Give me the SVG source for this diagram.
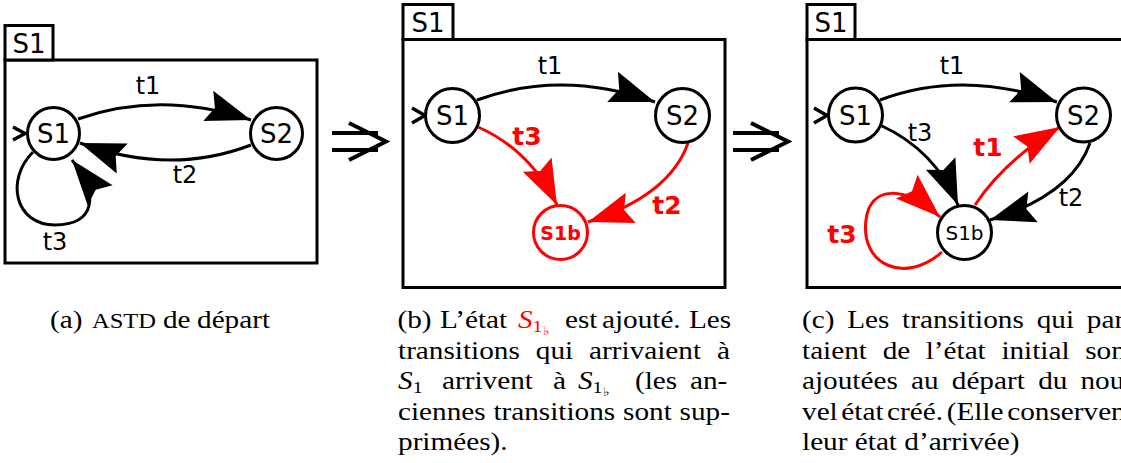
<svg xmlns="http://www.w3.org/2000/svg" width="1121" height="463" viewBox="0 0 1121 463">
<style>
.frame{fill:none;stroke:#000;stroke-width:3}
.lbl{fill:#fff;stroke:#000;stroke-width:3}
.node{fill:#fff;stroke:#000;stroke-width:3}
.rnode{fill:#fff;stroke:#f00;stroke-width:3}
.nt{font-family:"DejaVu Sans",sans-serif;font-size:26px;text-anchor:middle;fill:#000}
.st{font-family:"DejaVu Sans",sans-serif;font-size:20px;text-anchor:middle;fill:#000}
.rst{font-family:"DejaVu Sans",sans-serif;font-size:19px;font-weight:bold;text-anchor:middle;fill:#f00}
.tl{font-family:"DejaVu Sans",sans-serif;font-size:24px;text-anchor:middle;fill:#000}
.rtl{font-family:"DejaVu Sans",sans-serif;font-size:25px;font-weight:bold;text-anchor:middle;fill:#f00}
.e{fill:none;stroke:#000;stroke-width:3;marker-end:url(#ah)}
.re{fill:none;stroke:#f00;stroke-width:3;marker-end:url(#ahr)}
.init{fill:none;stroke:#000;stroke-width:3.5}
.imp{fill:none;stroke:#000;stroke-width:4}
.cap{font-family:"Liberation Serif","Times New Roman",serif;font-size:25px;fill:#000}
.red{fill:#f00}
.it{font-style:italic}
</style>
<defs>
<marker id="ah" markerUnits="userSpaceOnUse" viewBox="-47 -18 49 36" markerWidth="49" markerHeight="36" refX="0" refY="0" orient="auto"><path d="M0,0 L-45,-16 L-38,0 L-45,16 Z" fill="#000"/></marker>
<marker id="ahr" markerUnits="userSpaceOnUse" viewBox="-47 -18 49 36" markerWidth="49" markerHeight="36" refX="0" refY="0" orient="auto"><path d="M0,0 L-45,-16 L-38,0 L-45,16 Z" fill="#f00"/></marker>
</defs>

<!-- Panel a -->
<g id="panel-a">
  <rect class="frame" x="5" y="60" width="312" height="203"/>
  <rect class="lbl" x="5" y="25.5" width="48" height="34.5"/>
  <text class="nt" x="29" y="52.5">S1</text>
</g>
<g id="a-connectors">
  <polyline class="init" points="13,127 25,133.5 13,140"/>
  <path class="e" d="M78,119 Q160,90 251,120"/>
  <path class="e" d="M251,145 Q170,176 80,143"/>
  <path class="e" d="M33,152 C5,180 15,225 55,225 C95,225 100,195 72,160"/>
  <text class="tl" x="148" y="94">t1</text>
  <text class="tl" x="185" y="183">t2</text>
  <text class="tl" x="55" y="250">t3</text>
</g>
<g id="a-S1"><circle class="node" cx="53.5" cy="133.5" r="26"/><text class="nt" x="53.5" y="143">S1</text></g>
<g id="a-S2"><circle class="node" cx="276.5" cy="133.5" r="26"/><text class="nt" x="276.5" y="143">S2</text></g>

<!-- implication arrows -->
<g id="implies-1"><path class="imp" d="M332,133 H378 M332,150 H378 M349,123 L386,141.5 L349,160"/></g>
<g id="implies-2"><path class="imp" d="M733,133 H779 M733,150 H779 M751,123 L788,141.5 L751,160"/></g>

<!-- Panel b -->
<g id="panel-b">
  <rect class="frame" x="403" y="39.5" width="322" height="248"/>
  <rect class="lbl" x="403" y="4.5" width="50" height="35"/>
  <text class="nt" x="428" y="31.5">S1</text>
</g>
<g id="b-connectors">
  <polyline class="init" points="412,108 425,115.5 412,123"/>
  <path class="e" d="M477,100 Q562,69 655,102"/>
  <path class="re" d="M478,127 Q530,150 557,205"/>
  <path class="re" d="M688,143 Q670,195 588,222"/>
  <text class="tl" x="550" y="74">t1</text>
  <text class="rtl" x="527" y="145">t3</text>
  <text class="rtl" x="667" y="214">t2</text>
</g>
<g id="b-S1"><circle class="node" cx="452.5" cy="115.5" r="27"/><text class="nt" x="452.5" y="125">S1</text></g>
<g id="b-S2"><circle class="node" cx="682.5" cy="115.5" r="27"/><text class="nt" x="682.5" y="125">S2</text></g>
<g id="b-S1b"><circle class="rnode" cx="560.5" cy="232.5" r="27"/><text class="rst" x="560.5" y="240">S1b</text></g>

<!-- Panel c -->
<g id="panel-c">
  <rect class="frame" x="807" y="39.5" width="330" height="248"/>
  <rect class="lbl" x="807" y="4.5" width="48" height="35"/>
  <text class="nt" x="831" y="31.5">S1</text>
</g>
<g id="c-connectors">
  <polyline class="init" points="814,108 827,115.5 814,123"/>
  <path class="e" d="M880,100 Q962,69 1057,102"/>
  <path class="e" d="M880,125 Q935,150 958,205"/>
  <path class="e" d="M1090,143 Q1072,195 990,220"/>
  <path class="re" d="M975,205 Q1005,160 1060,127"/>
  <path class="re" d="M942,252 C905,285 860,265 866,220 C870,185 905,185 940,217"/>
  <text class="tl" x="952" y="74">t1</text>
  <text class="tl" x="920" y="141">t3</text>
  <text class="tl" x="1071" y="206">t2</text>
  <text class="rtl" x="988" y="156">t1</text>
  <text class="rtl" x="842" y="243">t3</text>
</g>
<g id="c-S1"><circle class="node" cx="855.5" cy="115" r="27"/><text class="nt" x="855.5" y="124.5">S1</text></g>
<g id="c-S2"><circle class="node" cx="1083.5" cy="115" r="27"/><text class="nt" x="1083.5" y="124.5">S2</text></g>
<g id="c-S1b"><circle class="node" cx="964.5" cy="232.5" r="27"/><text class="st" x="964.5" y="240">S1b</text></g>

<!-- Captions -->
<g id="captions" transform="scale(1.17,1)">
  <text class="cap" y="328"><tspan x="42.7">(a)</tspan><tspan x="78.6" font-size="21">ASTD</tspan><tspan x="139.3">de</tspan><tspan x="168.4">départ</tspan></text>

  <text class="cap" y="328"><tspan x="339.7">(b)</tspan><tspan x="376.1">L’état</tspan><tspan x="442.7" class="red it">S</tspan><tspan class="red" font-size="17" dy="4">1</tspan><tspan class="red" font-size="12" dy="3">♭</tspan><tspan x="482.9" dy="-7">est</tspan><tspan x="514.5">ajouté.</tspan><tspan x="588.9">Les</tspan></text>
  <text class="cap" y="359"><tspan x="340.2">transitions</tspan><tspan x="458">qui</tspan><tspan x="503.5">arrivaient</tspan><tspan x="612.9">à</tspan></text>
  <text class="cap" y="389.5"><tspan x="340.2" class="it">S</tspan><tspan font-size="17" dy="4">1</tspan><tspan x="377.8" dy="-4">arrivent</tspan><tspan x="472.6">à</tspan><tspan x="494" class="it">S</tspan><tspan font-size="17" dy="4">1</tspan><tspan font-size="12" dy="3">♭</tspan><tspan x="542.7" dy="-7">(les</tspan><tspan x="589.7">an-</tspan></text>
  <text class="cap" y="420"><tspan x="340.2">ciennes</tspan><tspan x="421.7">transitions</tspan><tspan x="532.5">sont</tspan><tspan x="580.8">sup-</tspan></text>
  <text class="cap" y="450"><tspan x="340.2">primées).</tspan></text>

  <text class="cap" y="328"><tspan x="685.5">(c)</tspan><tspan x="724.1">Les</tspan><tspan x="771">transitions</tspan><tspan x="886.1">qui</tspan><tspan x="928.9">par</tspan></text>
  <text class="cap" y="359"><tspan x="685.5">taient</tspan><tspan x="754.4">de</tspan><tspan x="791.2">l’état</tspan><tspan x="855.9">initial</tspan><tspan x="927.5">son</tspan></text>
  <text class="cap" y="389.5"><tspan x="685.5">ajoutées</tspan><tspan x="778.7">au</tspan><tspan x="813.5">départ</tspan><tspan x="887.3">du</tspan><tspan x="923.5">nou</tspan></text>
  <text class="cap" y="420"><tspan x="685.5">vel</tspan><tspan x="719.1">état</tspan><tspan x="758.2">créé.</tspan><tspan x="809.1">(Elle</tspan><tspan x="860.9">conserven</tspan></text>
  <text class="cap" y="450"><tspan x="685.5">leur</tspan><tspan x="730.6">état</tspan><tspan x="772.9">d’arrivée)</tspan></text>
</g>
</svg>
